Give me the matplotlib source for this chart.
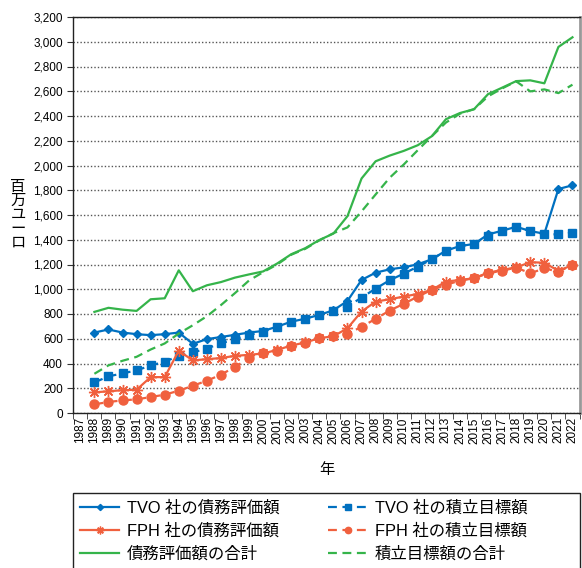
import numpy as np
import matplotlib
matplotlib.use("Agg")
import matplotlib.pyplot as plt
from matplotlib.patches import Rectangle

plt.rcParams['font.family'] = ['Liberation Sans', 'Noto Sans CJK JP', 'DejaVu Sans']

years = list(range(1987, 2023))
data_years = list(range(1988, 2023))

tvo_debt = [650, 675, 650, 637, 629, 637, 650, 559, 597, 614, 632, 650, 663, 698,
            738, 762, 793, 830, 906, 1075, 1134, 1161, 1177, 1202, 1242, 1312, 1349,
            1366, 1443, 1473, 1505, 1470, 1449, 1810, 1840]
tvo_target = [247, 296, 320, 344, 384, 414, 462, 489, 521, 563, 595, 630, 657, 695,
              736, 760, 790, 828, 860, 933, 1005, 1073, 1126, 1183, 1242, 1312, 1349,
              1366, 1430, 1473, 1505, 1470, 1446, 1443, 1457]
fph_debt = [167, 175, 185, 188, 290, 290, 503, 425, 435, 444, 462, 470, 481, 510,
            545, 570, 605, 620, 685, 820, 900, 919, 941, 962, 995, 1062, 1075, 1089,
            1134, 1156, 1177, 1218, 1215, 1148, 1196]
fph_target = [70, 89, 102, 110, 129, 148, 180, 220, 261, 309, 374, 441, 481, 505,
              543, 567, 605, 625, 640, 696, 761, 828, 882, 941, 995, 1035, 1070, 1089,
              1129, 1150, 1175, 1129, 1169, 1142, 1196]
total_debt = [817, 850, 835, 825, 919, 927, 1153, 984, 1032, 1058, 1094, 1120, 1144,
              1208, 1283, 1332, 1398, 1450, 1591, 1895, 2034, 2080, 2118, 2164, 2237,
              2374, 2424, 2455, 2577, 2629, 2682, 2688, 2664, 2958, 3036]
total_target = [317, 385, 422, 454, 513, 562, 642, 709, 782, 872, 969, 1071, 1138,
                1200, 1279, 1327, 1395, 1453, 1500, 1629, 1766, 1901, 2008, 2124, 2237,
                2347, 2419, 2455, 2559, 2623, 2680, 2599, 2615, 2585, 2653]

labels = ['TVO 社の債務評価額', 'TVO 社の積立目標額', 'FPH 社の債務評価額',
          'FPH 社の積立目標額', '債務評価額の合計', '積立目標額の合計']

blue = '#0070C0'
red = '#F0603E'
green = '#35B44A'

W, H = 582, 568
fig = plt.figure(figsize=(W / 100, H / 100), dpi=100)
ax = fig.add_axes([73.3 / W, 1 - 413 / H, (579.5 - 73.3) / W, (413 - 17) / H])

x = np.array(data_years) - 1987
lw = 1.6
dash = (0, (4, 2.5))
asterisk = (8, 2, 0)
h1, = ax.plot(x, tvo_debt, color=blue, lw=lw, marker='D', ms=4.5)
h2, = ax.plot(x, tvo_target, color=blue, lw=lw, ls=dash, marker='s', ms=6)
h3, = ax.plot(x, fph_debt, color=red, lw=lw, marker=asterisk, ms=8, mew=1.0)
h4, = ax.plot(x, fph_target, color=red, lw=lw, ls=dash, marker='o', ms=6.5)
h5, = ax.plot(x, total_debt, color=green, lw=lw)
h6, = ax.plot(x, total_target, color=green, lw=lw, ls=dash)

ax.set_xlim(-0.5, len(years) - 0.5)
ax.set_ylim(0, 3200)
ax.set_yticks(range(0, 3201, 200))
ax.set_yticklabels([f'{v:,}' for v in range(0, 3201, 200)], fontsize=8.5)
ax.yaxis.grid(True, ls=(0, (1, 1.5)), color='#555555', lw=1.0)
ax.set_axisbelow(True)

ax.set_xticks(range(len(years)))
ax.set_xticklabels([str(y) for y in years], rotation=90, fontsize=8.5)
ax.tick_params(axis='x', which='major', length=0, pad=3)
ax.set_xticks(np.arange(-0.5, len(years), 1), minor=True)
ax.tick_params(axis='x', which='minor', length=4, direction='out', color='#333333')
ax.tick_params(axis='y', length=4, direction='out', color='#333333')

for side in ['left', 'bottom', 'top']:
    ax.spines[side].set_color('#222222')
    ax.spines[side].set_linewidth(1.0)
ax.spines['right'].set_color('#999999')
ax.spines['right'].set_linewidth(2.0)

ax.set_xlabel('年', fontsize=11, labelpad=14)
fig.text(18 / W, 1 - 215 / H, '\n'.join('百万ユーロ'), fontsize=11,
         ha='center', va='center', linespacing=1.0)

# legend box: frame drawn separately, one legend per column
fig.patches.append(Rectangle((73.3 / W, -0.01), (579.5 - 73.3) / W, 0.01 + 1 - 493 / H,
                             transform=fig.transFigure, fill=False,
                             edgecolor='#222222', lw=1.0))
columns = [([h1, h3, h5], [labels[0], labels[2], labels[4]], 80),
           ([h2, h4, h6], [labels[1], labels[3], labels[5]], 328)]
for hs, labs, xpix in columns:
    leg = fig.legend(hs, labs, loc='upper left',
                     bbox_to_anchor=(xpix / W, 1 - 500 / H),
                     fontsize=11.8, frameon=False, markerscale=0.7,
                     handlelength=2.4, handletextpad=0.45, borderpad=0.0,
                     labelspacing=0.48, borderaxespad=0.0)
    for lh in leg.get_lines():
        lh.set_markevery([1])

fig.savefig('out.png', dpi=100)
